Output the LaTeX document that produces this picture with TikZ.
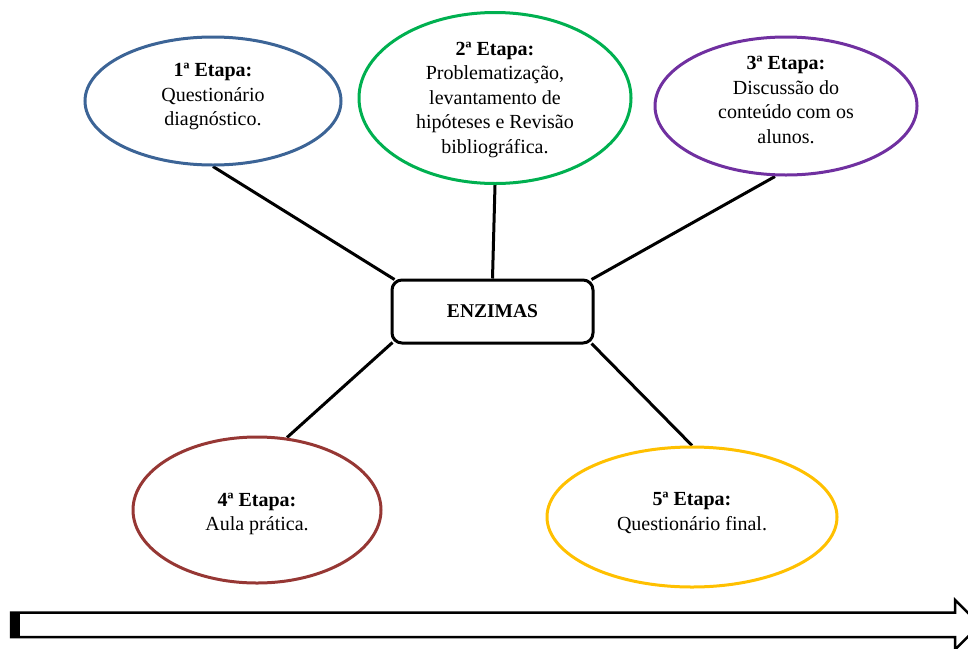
\documentclass[tikz,border=0pt]{standalone}
\usepackage{fontspec}
\setmainfont{Liberation Serif}
\usetikzlibrary{shapes.geometric,calc,backgrounds}
\definecolor{cblue}{RGB}{60,100,150}
\definecolor{cgreen}{RGB}{0,176,80}
\definecolor{cpurple}{RGB}{112,48,160}
\definecolor{cred}{RGB}{150,55,52}
\definecolor{cgold}{RGB}{255,192,0}
\tikzset{
  etapa/.style={ellipse, draw=#1, line width=3pt, inner sep=0pt},
  etapatext/.style={align=center, inner sep=0pt,
    font=\fontsize{20}{24.5}\selectfont},
  centerbox/.style={draw, line width=3pt, rounded corners=10pt, fill=white,
    minimum width=201pt, minimum height=63pt, inner sep=0pt,
    font=\fontsize{19.5}{24}\selectfont\bfseries},
  conn/.style={line width=3pt},
  bigarrow/.style={draw, line width=2.5pt, fill=white, line join=miter}
}
\begin{document}
\begin{tikzpicture}[x=1pt,y=-1pt]
\useasboundingbox (0,0) rectangle (968,648);
\node[etapa=cblue, minimum width=256pt, minimum height=128pt] (e1) at (213,101) {};
\node[etapa=cgreen, minimum width=272pt, minimum height=171pt] (e2) at (495,98) {};
\node[etapa=cpurple, minimum width=262pt, minimum height=138pt] (e3) at (786,106) {};
\node[etapa=cred, minimum width=248pt, minimum height=146pt] (e4) at (257,510) {};
\node[etapa=cgold, minimum width=290pt, minimum height=140pt] (e5) at (692,517) {};
\node[etapatext] (t1) at ($(e1)+(0,-4)$)
  {\textbf{1ª Etapa:}\\Questionário\\diagnóstico.};
\node[etapatext] (t2) at ($(e2)+(0,2)$)
  {\textbf{2ª Etapa:}\\Problematização,\\levantamento de\\hipóteses e Revisão\\bibliográfica.};
\node[etapatext] (t3) at ($(e3)+(0,-6)$)
  {\textbf{3ª Etapa:}\\Discussão do\\conteúdo com os\\alunos.};
\node[etapatext] (t4) at ($(e4)+(0,4)$)
  {\textbf{4ª Etapa:}\\Aula prática.};
\node[etapatext] (t5) at ($(e5)+(0,-4)$)
  {\textbf{5ª Etapa:}\\Questionário final.};
\node[centerbox] (box) at (492.5,311.5) {ENZIMAS};
\begin{scope}[on background layer]
\draw[conn] (e1.south) -- ($(box.north west)+(4,1)$);
\draw[conn] (e2.south) -- (box.north);
\draw[conn] ($(e3.south)+(-11,0)$) -- ($(box.north east)+(-3,1)$);
\draw[conn] ($(e4.north)+(30,2)$) -- ($(box.south west)+(2,-2)$);
\draw[conn] (e5.north) -- ($(box.south east)+(-3,-1)$);
\end{scope}
% bottom block arrow
\draw[bigarrow] (11,612.5) -- (955,612.5) -- (955,600) -- (980,624.75)
  -- (955,649.5) -- (955,637) -- (11,637) -- cycle;
\fill (10,611.5) rectangle (20,638);
\end{tikzpicture}
\end{document}
